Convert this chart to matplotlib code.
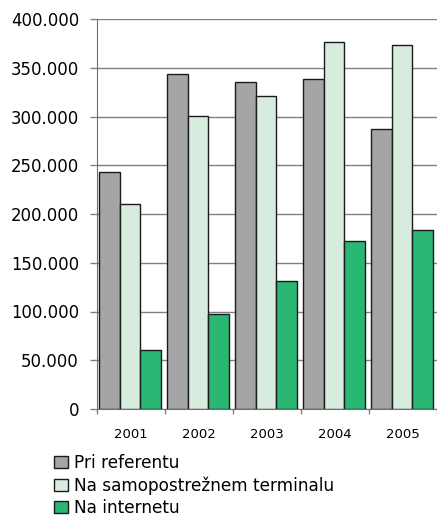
import matplotlib
matplotlib.use("Agg")
import matplotlib.pyplot as plt
import numpy as np
from matplotlib.patches import Patch
from matplotlib.ticker import FuncFormatter, FixedLocator

plt.rcParams['font.family'] = ['DejaVu Sans']

years = ["2001", "2002", "2003", "2004", "2005"]
series_names = ["Pri referentu", "Na samopostrežnem terminalu", "Na internetu"]
pri_referentu = [243000, 344000, 335500, 338000, 287000]
na_terminalu = [210000, 301000, 321000, 376000, 373000]
na_internetu = [60500, 97000, 131500, 172500, 184000]
colors = ["#A6A5A5", "#D7EBDE", "#2AB673"]
y_ticks = [0, 50000, 100000, 150000, 200000, 250000, 300000, 350000, 400000]

W, H = 437, 517
fig = plt.figure(figsize=(W / 100, H / 100), dpi=100)
ax = fig.add_axes([97 / W, (H - 409) / H, (437 - 97) / W, (409 - 19) / H])

x = np.arange(len(years))
bw = 0.3
for i, (vals, col) in enumerate(zip([pri_referentu, na_terminalu, na_internetu], colors)):
    ax.bar(x + (i - 1) * bw - 0.015, vals, width=bw, color=col, edgecolor="#1a1a1a",
           linewidth=1.0, zorder=3)

ax.set_xlim(-0.5, len(years) - 0.5)
ax.set_ylim(0, 400000)
ax.set_yticks(y_ticks)
ax.yaxis.set_major_formatter(FuncFormatter(lambda v, p: "0" if v == 0 else f"{int(v):,}".replace(",", ".")))
ax.tick_params(axis="y", labelsize=11.9, length=5, width=1, color="#808080", pad=8)
ax.grid(axis="y", color="#808080", linewidth=1, zorder=0)

ax.set_xticks(x)
ax.set_xticklabels(years)
ax.xaxis.set_minor_locator(FixedLocator(np.arange(-0.5, len(years), 1.0)))
ax.tick_params(axis="x", which="major", length=0, labelsize=9.5, pad=14)
ax.tick_params(axis="x", which="minor", length=3.6, width=1, color="#808080")

for s in ["top", "right"]:
    ax.spines[s].set_visible(False)
ax.spines["left"].set_color("#707070")
ax.spines["bottom"].set_color("#707070")

handles = [Patch(facecolor=c, edgecolor="#1a1a1a", linewidth=1) for c in colors]
fig.legend(handles, series_names, loc="upper left",
           bbox_to_anchor=(54 / W, 1 - 454 / H), frameon=False, fontsize=12.2,
           handlelength=0.82, handleheight=0.77, handletextpad=0.35,
           labelspacing=0.25, borderpad=0, borderaxespad=0)

fig.savefig("out.png", dpi=100)
